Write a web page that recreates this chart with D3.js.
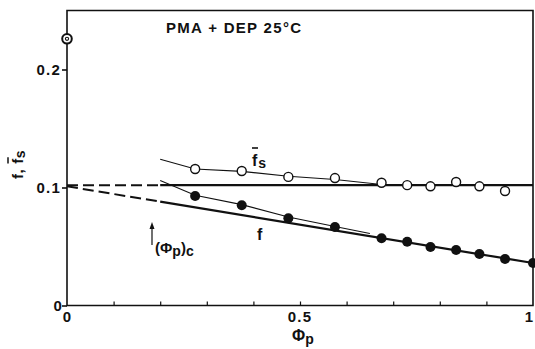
<!DOCTYPE html>
<html>
<head>
<meta charset="utf-8">
<script src="https://cdn.jsdelivr.net/npm/d3@7"></script>
<style>
  body { margin: 0; background: #fff; }
  text { font-family: "Liberation Sans", Arial, sans-serif; font-weight: bold; fill: #111; }
</style>
</head>
<body>
<div id="chart"></div>
<script>
// data
const phiS = [0.275, 0.375, 0.475, 0.575, 0.675, 0.73, 0.78, 0.835, 0.885, 0.94];
const fsBar = [0.1157, 0.114, 0.109, 0.108, 0.104, 0.102, 0.101, 0.1047, 0.101, 0.097];
const phiF = [0.275, 0.375, 0.475, 0.575, 0.675, 0.73, 0.78, 0.835, 0.885, 0.94, 1.0];
const fVals = [0.0928, 0.085, 0.074, 0.0665, 0.057, 0.054, 0.0496, 0.047, 0.0436, 0.0394, 0.036];
const solvent = [0, 0.226];
// thin fitted curves through points
const fsCurve = [[0.2, 0.124], [0.275, 0.1157], [0.375, 0.1137], [0.475, 0.1095], [0.575, 0.1068], [0.675, 0.1025], [0.75, 0.102]];
const fCurve = [[0.2, 0.106], [0.275, 0.0935], [0.375, 0.0855], [0.475, 0.075], [0.575, 0.067], [0.65, 0.061]];
// limiting straight lines
const fsLimit = [[0, 0.102], [0.2, 0.102], [1, 0.102]];
const fLimit = [[0, 0.101], [0.2, 0.088], [1, 0.036]];
const xTicks = [0.1, 0.2, 0.3, 0.4, 0.5, 0.6, 0.7, 0.8, 0.9];
const yTicks = [0, 0.1, 0.2];

const width = 535, height = 349;
const svg = d3.select("#chart").append("svg")
  .attr("width", width).attr("height", height);

const x = d3.scaleLinear().domain([0, 1]).range([67, 533]);
const y = d3.scaleLinear().domain([0, 0.25]).range([305.5, 10.5]);

// frame
svg.append("path")
  .attr("d", `M${x(0)},${y(0)}V${y(0.25)}H${x(1)}V${y(0)}Z`)
  .attr("fill", "none").attr("stroke", "#111").attr("stroke-width", 1.6);

// x axis ticks (inside)
svg.append("g").attr("transform", `translate(0,${y(0)})`)
  .call(d3.axisBottom(x).tickValues(xTicks).tickSize(-4).tickFormat(""))
  .call(g => g.select(".domain").remove())
  .call(g => g.selectAll("line").attr("stroke", "#111").attr("stroke-width", 1.2));

// y axis ticks (outside)
svg.append("g").attr("transform", `translate(${x(0)},0)`)
  .call(d3.axisLeft(y).tickValues(yTicks).tickSize(5).tickFormat(""))
  .call(g => g.select(".domain").remove())
  .call(g => g.selectAll("line").attr("stroke", "#111").attr("stroke-width", 1.6));

// tick labels
svg.selectAll(".ylab").data(yTicks).enter().append("text")
  .attr("x", d => d === 0 ? 63 : 61).attr("y", d => y(d) + 5)
  .attr("text-anchor", "end").attr("font-size", 15).attr("letter-spacing", 1.2)
  .text(d => d === 0 ? "0" : d3.format(".1f")(d));
svg.selectAll(".xlab").data([0, 0.5, 1]).enter().append("text")
  .attr("x", d => d === 1 ? 529 : x(d)).attr("y", 322)
  .attr("text-anchor", "middle").attr("font-size", 15).attr("letter-spacing", d => d === 0.5 ? 1.2 : 0)
  .text(d => d === 0.5 ? "0.5" : String(d));

const line = d3.line().x(d => x(d[0])).y(d => y(d[1]));

// dashed extrapolations to phi = 0
[fsLimit, fLimit].forEach(l => {
  svg.append("path").datum(l.slice(0, 2)).attr("d", line)
    .attr("fill", "none").attr("stroke", "#111").attr("stroke-width", 2)
    .attr("stroke-dasharray", "11,5");
  svg.append("path").datum(l.slice(1)).attr("d", line)
    .attr("fill", "none").attr("stroke", "#111").attr("stroke-width", 2.2);
});

// thin curves
[fsCurve, fCurve].forEach(c => {
  svg.append("path").datum(c).attr("d", line)
    .attr("fill", "none").attr("stroke", "#111").attr("stroke-width", 1.1);
});

// open circles (fs bar)
svg.selectAll(".fs").data(phiS).enter().append("circle")
  .attr("cx", d => x(d)).attr("cy", (d, i) => y(fsBar[i])).attr("r", 4.5)
  .attr("fill", "#fff").attr("stroke", "#111").attr("stroke-width", 1.4);

// filled circles (f)
svg.selectAll(".f").data(phiF).enter().append("circle")
  .attr("cx", d => x(d)).attr("cy", (d, i) => y(fVals[i])).attr("r", 5)
  .attr("fill", "#111");

// pure solvent point
svg.append("circle").attr("cx", x(solvent[0])).attr("cy", y(solvent[1])).attr("r", 4.8)
  .attr("fill", "#fff").attr("stroke", "#111").attr("stroke-width", 2);
svg.append("circle").attr("cx", x(solvent[0])).attr("cy", y(solvent[1])).attr("r", 1.6)
  .attr("fill", "none").attr("stroke", "#111").attr("stroke-width", 1.1);

// title
svg.append("text").attr("x", 166).attr("y", 33).attr("font-size", 15)
  .attr("letter-spacing", 1.3).text("PMA + DEP 25°C");

// curve labels
const fsLab = svg.append("text").attr("x", 252).attr("y", 166).attr("font-size", 16);
fsLab.append("tspan").text("f");
fsLab.append("tspan").attr("dx", 1).attr("dy", 2).attr("font-size", 14).text("s");
svg.append("line").attr("x1", 252).attr("x2", 258).attr("y1", 148).attr("y2", 148)
  .attr("stroke", "#111").attr("stroke-width", 1.6);

svg.append("text").attr("x", 257).attr("y", 240).attr("font-size", 16).text("f");

// critical concentration arrow
svg.append("line").attr("x1", 152).attr("x2", 152).attr("y1", 245).attr("y2", 226)
  .attr("stroke", "#111").attr("stroke-width", 1.2);
svg.append("path").attr("d", "M149.5,229L152,222L154.5,229Z").attr("fill", "#111");
const crit = svg.append("text").attr("x", 155).attr("y", 253).attr("font-size", 15);
crit.append("tspan").text("(Φ");
crit.append("tspan").attr("dy", 3).attr("font-size", 14).text("p");
crit.append("tspan").attr("dy", -3).text(")");
crit.append("tspan").attr("dy", 3).attr("font-size", 14).text("c");

// x axis label
const xl = svg.append("text").attr("x", 292).attr("y", 341).attr("font-size", 16);
xl.append("tspan").text("Φ");
xl.append("tspan").attr("dy", 3).attr("font-size", 14).text("p");

// y axis label
const yl = svg.append("g").attr("transform", "translate(23,179) rotate(-90)");
const ylt = yl.append("text").attr("x", 0).attr("y", 0).attr("font-size", 15).attr("letter-spacing", 0.6);
ylt.append("tspan").text("f, f");
ylt.append("tspan").attr("dy", 2).attr("font-size", 14).text("s");
const n = ylt.node();
const s0 = n.getStartPositionOfChar(3).x, e0 = n.getEndPositionOfChar(3).x;
yl.append("line").attr("x1", s0 + 0.5).attr("x2", e0 + 1).attr("y1", -15).attr("y2", -15)
  .attr("stroke", "#111").attr("stroke-width", 1.5);
</script>
</body>
</html>
